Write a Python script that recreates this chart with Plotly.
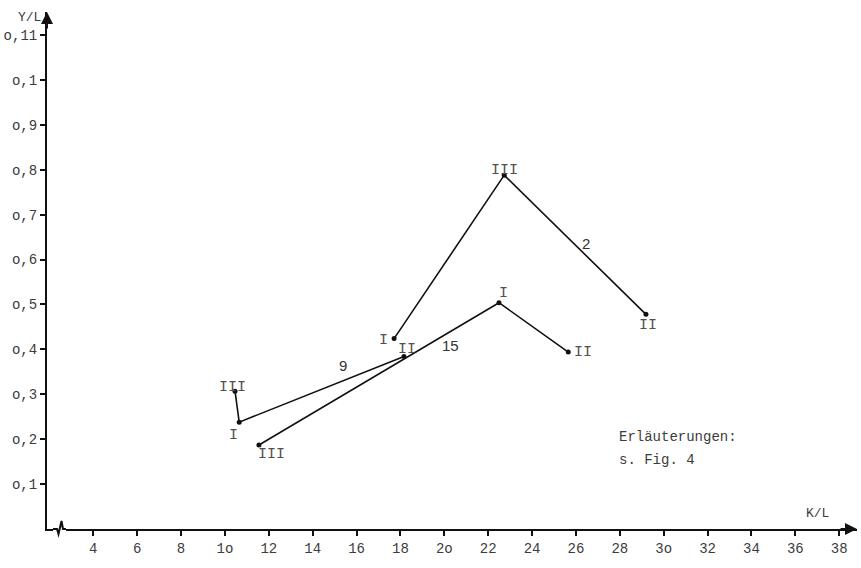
import plotly.graph_objects as go

# ---- data ----
series_names = ["9", "15", "2"]
# points in drawing order, each with its period label
s9_x = [10.46, 10.65, 18.16]
s9_y = [0.307, 0.238, 0.384]
s9_lab = ["III", "I", "II"]

s15_x = [11.55, 22.49, 25.65]
s15_y = [0.187, 0.504, 0.394]
s15_lab = ["III", "I", "II"]

s2_x = [17.71, 22.73, 29.19]
s2_y = [0.424, 0.788, 0.478]
s2_lab = ["I", "III", "II"]

# series-number label positions (data coords)
num_x = [15.39, 20.30, 26.46]
num_y = [0.365, 0.408, 0.635]

x_ticks = [4, 6, 8, 10, 12, 14, 16, 18, 20, 22, 24, 26, 28, 30, 32, 34, 36, 38]
x_ticktext = ["4", "6", "8", "1o", "12", "14", "16", "18", "2o", "22", "24", "26",
              "28", "3o", "32", "34", "36", "38"]
y_ticks = [0.1, 0.2, 0.3, 0.4, 0.5, 0.6, 0.7, 0.8, 0.9, 1.0, 1.1]
y_ticktext = ["o,1", "o,2", "o,3", "o,4", "o,5", "o,6", "o,7", "o,8", "o,9", "o,1", "o,11"]

# ---- style ----
W, H = 861, 568
ML, MR, MT, MB = 47, 4, 12, 39
MONO = "Liberation Mono, Courier New, monospace"
INK = "#111111"
TXT = "#3c3c3c"

# label offsets (px: dx right, dy up) per point, style only
s9_off = [(-3, 4), (-6, -13), (3, 7)]
s15_off = [(13, -9), (5, 9), (15, 0)]
s2_off = [(-11, -2), (0, 5), (2, -11)]

fig = go.Figure()
annotations = []
for xs, ys, labs, offs in [(s9_x, s9_y, s9_lab, s9_off),
                           (s15_x, s15_y, s15_lab, s15_off),
                           (s2_x, s2_y, s2_lab, s2_off)]:
    fig.add_trace(go.Scatter(x=xs, y=ys, mode="lines+markers",
                             line=dict(color=INK, width=1.6),
                             marker=dict(color=INK, size=5),
                             showlegend=False, hoverinfo="skip"))
    for x, y, t, (dx, dy) in zip(xs, ys, labs, offs):
        annotations.append(dict(x=x, y=y, text=t, showarrow=False,
                                xshift=dx, yshift=dy,
                                font=dict(family=MONO, size=15, color="#505050")))

for x, y, t in zip(num_x, num_y, series_names):
    annotations.append(dict(x=x, y=y, text=t, showarrow=False,
                            font=dict(family="Liberation Sans, Arial, sans-serif",
                                      size=15, color="#333333")))

annotations += [
    dict(x=27.87, y=0.205, text="Erläuterungen:", showarrow=False, xanchor="left",
         font=dict(family=MONO, size=14, color=TXT)),
    dict(x=27.87, y=0.154, text="s. Fig. 4", showarrow=False, xanchor="left",
         font=dict(family=MONO, size=14, color=TXT)),
    # axis titles
    dict(xref="paper", yref="paper", x=-0.005, y=1.0, text="Y/L", showarrow=False,
         xanchor="right", yanchor="top", yshift=4,
         font=dict(family=MONO, size=13, color=TXT)),
    dict(xref="paper", yref="paper", x=0.951, y=0.0, text="K/L", showarrow=False,
         xanchor="center", yanchor="bottom", yshift=6,
         font=dict(family=MONO, size=13, color=TXT)),
    # arrows
    dict(xref="paper", yref="paper", x=0, y=1.0, ax=0, ay=18, showarrow=True,
         arrowhead=2, arrowsize=1.2, arrowwidth=2, arrowcolor=INK, text=""),
    dict(xref="paper", yref="paper", x=1.0, y=0, ax=-18, ay=0, showarrow=True,
         arrowhead=2, arrowsize=1.2, arrowwidth=2, arrowcolor=INK, text=""),
]

pw, ph = W - ML - MR, H - MT - MB


def pp(px, py):
    return (px - ML) / pw, (H - MB - py) / ph


# axis break (zigzag) near origin
r0 = pp(53, 524)
r1 = pp(66, 534)
pts = [pp(53, 529), pp(57, 529), pp(58.5, 534), pp(61.5, 521), pp(63, 529), pp(66, 529)]
path = "M " + " L ".join(f"{a:.5f},{b:.5f}" for a, b in pts)
shapes = [
    dict(type="rect", xref="paper", yref="paper", x0=r0[0], x1=r1[0], y0=r1[1], y1=r0[1],
         fillcolor="white", line=dict(width=0), layer="above"),
    dict(type="path", xref="paper", yref="paper", path=path,
         line=dict(color=INK, width=2), layer="above"),
]

fig.update_layout(
    width=W, height=H,
    margin=dict(l=ML, r=MR, t=MT, b=MB, autoexpand=False),
    paper_bgcolor="white", plot_bgcolor="white",
    annotations=annotations, shapes=shapes,
    xaxis=dict(range=[1.89, 38.81], tickvals=x_ticks, ticktext=x_ticktext,
               automargin=False,
               showgrid=False, zeroline=False, showline=True, linecolor=INK,
               linewidth=2, ticks="outside", ticklen=5, tickwidth=1.5, tickcolor=INK,
               tickfont=dict(family=MONO, size=14, color=TXT)),
    yaxis=dict(range=[0, 1.1514], tickvals=y_ticks, ticktext=y_ticktext,
               automargin=False,
               showgrid=False, zeroline=False, showline=True, linecolor=INK,
               linewidth=2, ticks="outside", ticklen=5, tickwidth=1.5, tickcolor=INK,
               tickfont=dict(family=MONO, size=14, color=TXT)),
)

fig.write_html("out.html", config={"displayModeBar": False},
               post_script="document.body.style.margin='0';document.body.style.overflow='hidden';")
